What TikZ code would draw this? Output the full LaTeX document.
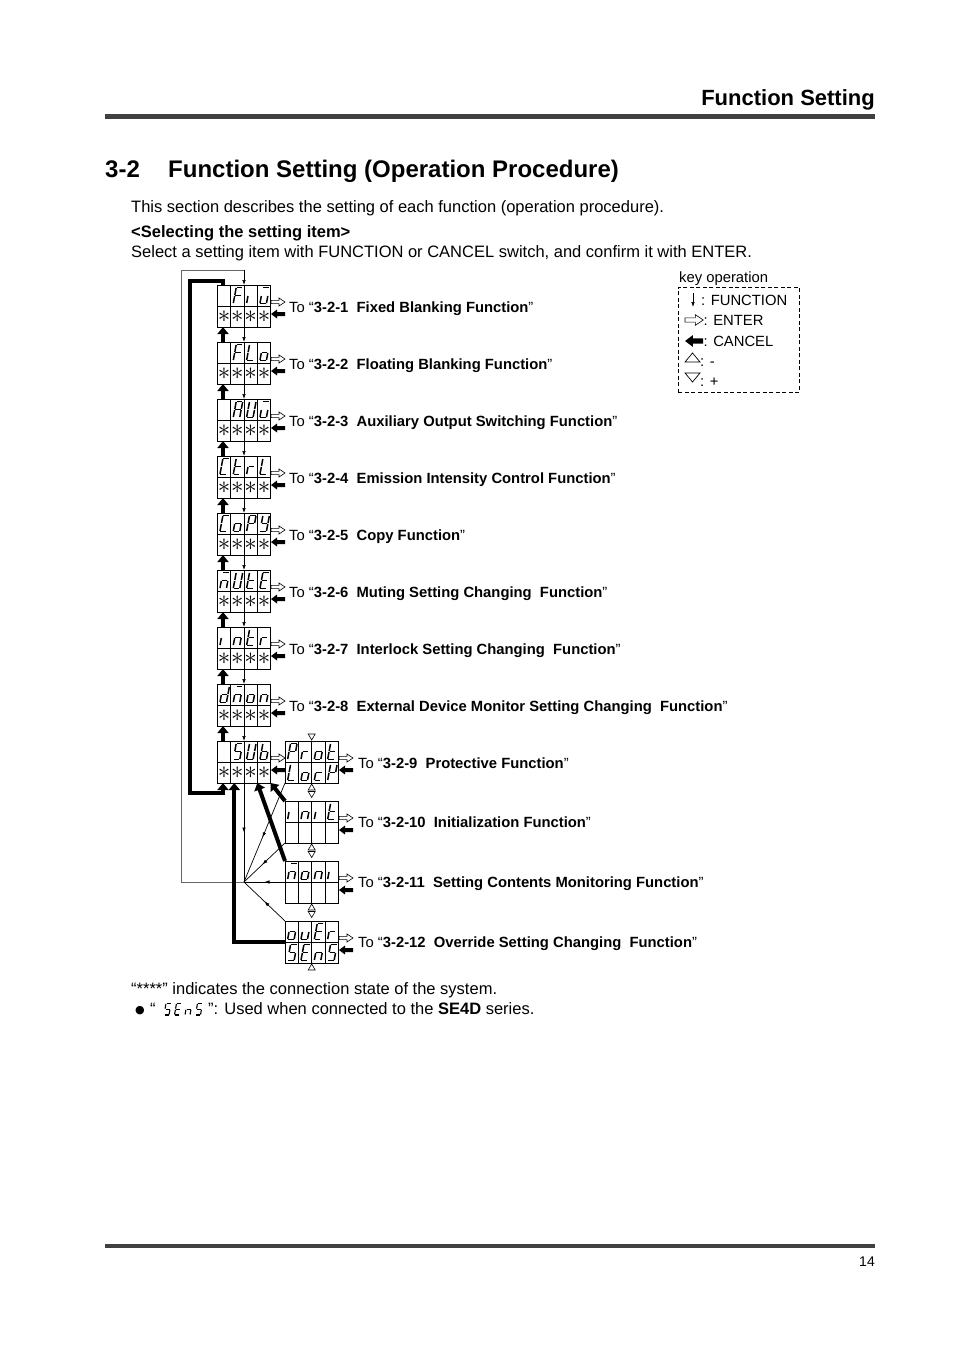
\documentclass[tikz,border=0pt]{standalone}
\usepackage{fontspec}
\setmainfont{Liberation Sans}
\newfontfamily\djv{DejaVu Sans}
\usetikzlibrary{arrows.meta,calc,decorations.markings}

% seven-segment letters: 1=a 2=b 3=c 4=d 5=e 6=f 7=g
\newcommand\sgX{0}
\newcommand\sgF{1,5,6,7}
\newcommand\sgi{5}
\newcommand\sgub{1,3,4,5}
\newcommand\sgL{4,5,6}
\newcommand\sgo{3,4,5,7}
\newcommand\sgA{1,2,3,5,6,7}
\newcommand\sgU{2,3,4,5,6}
\newcommand\sgC{1,4,5,6}
\newcommand\sgt{4,5,6,7}
\newcommand\sgr{5,7}
\newcommand\sgP{1,2,5,6,7}
\newcommand\sgy{2,3,4,6,7}
\newcommand\sgnb{1,3,5,7}
\newcommand\sgE{1,4,5,6,7}
\newcommand\sgn{3,5,7}
\newcommand\sgd{2,3,4,5,7}
\newcommand\sgS{1,3,4,6,7}
\newcommand\sgb{3,4,5,6,7}
\newcommand\sgc{4,5,7}
\newcommand\sgk{2,5,6,7}
\newcommand\sgu{3,4,5}
\newcommand\sglw{1.5pt}

\newcommand\sevseg[4]{%
\begin{scope}[shift={(#1,#2)},x={(6.5pt,0pt)},y={(1.5pt,8pt)},#4]
\foreach \s in #3 {\ifcase\s\relax\or
 \draw[sg] (0,2)--(1,2);\or
 \draw[sg] (1,2)--(1,1);\or
 \draw[sg] (1,1)--(1,0);\or
 \draw[sg] (0,0)--(1,0);\or
 \draw[sg] (0,0)--(0,1);\or
 \draw[sg] (0,1)--(0,2);\or
 \draw[sg] (0,1)--(1,1);\fi}
\end{scope}}

\newcommand\rowg[6]{%
\sevseg{#1+2.6}{#2+18.5}{#3}{}%
\sevseg{#1+15.93}{#2+18.5}{#4}{}%
\sevseg{#1+29.27}{#2+18.5}{#5}{}%
\sevseg{#1+42.6}{#2+18.5}{#6}{}}

\newcommand\dispbox[3]{%
\node[disp] (#1) at (#2,#3) {};
\draw[cellline] (#1.west) -- (#1.east);
\foreach \k in {1,2,3} \draw[cellline] ($(#1.north west)+(13.333*\k,0)$) -- ($(#1.south west)+(13.333*\k,0)$);}

\newcommand\mainbox[6]{%
\dispbox{#1}{217.3}{#2}%
\rowg{217.3}{#2}{#3}{#4}{#5}{#6}%
\foreach \k in {0,1,2,3}{\node[ast] (#1a\k) at (217.3+6.67+13.333*\k,#2+31.5) {$\ast$};}
\pic at (271,#2+17) {enter};
\pic at (271,#2+29) {cancel};}

\tikzset{
 disp/.style={draw, line width=1pt, anchor=north west, minimum width=53.33pt, minimum height=42pt, inner sep=0pt, outer sep=0pt},
 cellline/.style={line width=0.9pt},
 sg/.style={line width=\sglw, shorten <=0.5pt, shorten >=0.5pt},
 fnarr/.style={line width=0.7pt, -{Latex[length=5pt,width=3.6pt]}},
 midfn/.style={line width=0.7pt, postaction={decorate}, decoration={markings, mark=at position #1 with {\arrow{Latex[length=5pt,width=3.6pt]}}}},
 outerln/.style={line width=0.9pt, black!60},
 cnl/.style={line width=4pt, line join=miter, -{Triangle[length=7pt,width=11pt]}},
 ast/.style={inner sep=0pt, font=\fontsize{24}{24}\selectfont},
 lbl/.style={anchor=base west, inner sep=0pt, font=\fontsize{14.8}{17}\selectfont},
 keyt/.style={anchor=base west, inner sep=0pt, font=\fontsize{14.8}{17}\selectfont},
 body/.style={anchor=base west, inner sep=0pt, font=\fontsize{16.5}{19}\selectfont},
 enter/.pic={\draw[line width=0.6pt,fill=white,line join=miter] (0,-1.6) -- (8,-1.6) -- (8,-4) -- (14,0) -- (8,4) -- (8,1.6) -- (0,1.6) -- cycle;},
 cancel/.pic={\fill (0,0) -- (6,-4.5) -- (6,-2) -- (14,-2) -- (14,2) -- (6,2) -- (6,4.5) -- cycle;},
 uptri/.pic={\draw[line width=0.6pt] (-3.5,6) -- (3.5,6) -- (0,0) -- cycle;},
 downtri/.pic={\draw[line width=0.6pt] (-3.5,0) -- (3.5,0) -- (0,6) -- cycle;},
}

\begin{document}
\begin{tikzpicture}[x=1pt,y=-1pt]
\fill[white] (0,0) rectangle (954,1348);
\useasboundingbox (0,0) rectangle (954,1348);

% header
\node[anchor=base east, inner sep=0pt, font=\bfseries\fontsize{22}{26}\selectfont] (hdr) at (875,106) {Function Setting};
\coordinate (hl) at (105,117); \coordinate (hr) at (875,117);
\draw[line width=5pt, black!75] (hl) -- (hr);

% title
\node[anchor=base west, inner sep=0pt, font=\bfseries\fontsize{24}{28}\selectfont] (tnum) at (105,177.5) {3-2};
\node[anchor=base west, inner sep=0pt, font=\bfseries\fontsize{24}{28}\selectfont] (ttl) at (168,177.5) {Function Setting (Operation Procedure)};

% body text
\node[body] (t1) at (131,213) {This section describes the setting of each function (operation procedure).};
\node[body, font=\bfseries\fontsize{16.5}{19}\selectfont] (t2) at (131,237.5) {<Selecting the setting item>};
\node[body] (t3) at (131,257.5) {Select a setting item with FUNCTION or CANCEL switch, and confirm it with ENTER.};

% key
\node[keyt] (kt) at (679,282) {key operation};
\node[draw, dash pattern=on 4pt off 2.5pt, line width=0.8pt, anchor=north west, minimum width=121pt, minimum height=105pt, inner sep=0pt] (keybox) at (678,287) {};
\coordinate (kf1) at (693,293); \coordinate (kf2) at (693,307);
\draw[fnarr] (kf1) -- (kf2);
\node[keyt] (k1) at (701,305) {: FUNCTION};
\pic[scale=1.3] at (685,320) {enter};
\node[keyt] (k2) at (703.5,325) {: ENTER};
\pic[scale=1.3] at (685,341) {cancel};
\node[keyt] (k3) at (703.5,346) {: CANCEL};
\draw[line width=0.7pt] (685,362) -- (700,362) -- (692.5,353) -- cycle;
\node[keyt] (k4) at (700,366) {: -};
\draw[line width=0.7pt] (685,373) -- (700,373) -- (692.5,382) -- cycle;
\node[keyt] (k5) at (700,386) {: +};

% main column
\mainbox{m0}{285}{\sgX}{\sgF}{\sgi}{\sgub}
\mainbox{m1}{342}{\sgX}{\sgF}{\sgL}{\sgo}
\mainbox{m2}{399}{\sgX}{\sgA}{\sgU}{\sgub}
\mainbox{m3}{456}{\sgC}{\sgt}{\sgr}{\sgL}
\mainbox{m4}{513}{\sgC}{\sgo}{\sgP}{\sgy}
\mainbox{m5}{570}{\sgnb}{\sgU}{\sgt}{\sgE}
\mainbox{m6}{627}{\sgi}{\sgn}{\sgt}{\sgr}
\mainbox{m7}{684}{\sgd}{\sgnb}{\sgo}{\sgn}
\mainbox{m8}{741}{\sgX}{\sgS}{\sgU}{\sgb}

% sub column
\dispbox{s0}{285}{741}
\rowg{285}{741}{\sgP}{\sgr}{\sgo}{\sgt}
\rowg{285}{762}{\sgL}{\sgo}{\sgc}{\sgk}
\dispbox{s1}{285}{801}
\rowg{285}{801}{\sgi}{\sgn}{\sgi}{\sgt}
\dispbox{s2}{285}{861}
\rowg{285}{861}{\sgnb}{\sgo}{\sgn}{\sgi}
\dispbox{s3}{285}{921}
\rowg{285}{921}{\sgo}{\sgu}{\sgE}{\sgr}
\rowg{285}{942}{\sgS}{\sgE}{\sgn}{\sgS}
\foreach \T in {741,801,861,921}{\pic at (339,\T+17) {enter}; \pic at (339,\T+29) {cancel};}

\pic at (311.7,734) {downtri};
\foreach \B in {783,843,903}{\pic at (311.7,\B+1) {uptri}; \pic at (311.7,\B+8.5) {downtri};}
\pic at (311.7,964) {uptri};

% helper coordinates
\coordinate (dx) at (244,0);
\coordinate (ux) at (223,0);
\coordinate (cx) at (234.3,0);
\coordinate (ox) at (181,270);
\coordinate (tl) at (190,281);
\coordinate (bl) at (190,793);
\coordinate (fan) at (244,882);

% FUNCTION arrows (thin)
\foreach \a/\b in {m0/m1,m1/m2,m2/m3,m3/m4,m4/m5,m5/m6,m6/m7,m7/m8}
  \draw[fnarr] (\a.south -| dx) -- (\b.north -| dx);
\draw[outerln] (fan) -- (fan -| ox) -- (ox) -- (ox -| dx);
\draw[fnarr] (ox -| dx) -- (m0.north -| dx);
\draw[midfn=0.5] (m8.south -| dx) -- (fan);
\draw[midfn=0.55] (s0.south west) -- (fan);
\draw[midfn=0.55] (s1.south west) -- (fan);
\draw[midfn=0.5] (s2.west) -- (fan);
\draw[midfn=0.5] (s3.north west) -- (fan);

% CANCEL arrows (thick)
\foreach \a/\b in {m1/m0,m2/m1,m3/m2,m4/m3,m5/m4,m6/m5,m7/m6,m8/m7}
  \draw[cnl] (\a.north -| ux) -- (\b.south -| ux);
\draw[cnl] (m0.north -| ux) -- (tl -| ux) -- (tl) -- (bl) -- (bl -| ux) -- (m8.south -| ux);
\draw[cnl] (s1.north west) -- (m8.south east);
\draw[cnl] (s2.north west) -- ($(m8.south west)+(40,0)$);
\draw[cnl] (s3.west) -- (s3.west -| cx) -- (m8.south -| cx);

% labels
\node[lbl] (l1) at (289,312) {To “\textbf{3-2-1\ \ Fixed Blanking Function}”};
\node[lbl] (l2) at (289,369) {To “\textbf{3-2-2\ \ Floating Blanking Function}”};
\node[lbl] (l3) at (289,426) {To “\textbf{3-2-3\ \ Auxiliary Output Switching Function}”};
\node[lbl] (l4) at (289,483) {To “\textbf{3-2-4\ \ Emission Intensity Control Function}”};
\node[lbl] (l5) at (289,540) {To “\textbf{3-2-5\ \ Copy Function}”};
\node[lbl] (l6) at (289,597) {To “\textbf{3-2-6\ \ Muting Setting Changing\ \ Function}”};
\node[lbl] (l7) at (289,654) {To “\textbf{3-2-7\ \ Interlock Setting Changing\ \ Function}”};
\node[lbl] (l8) at (289,711) {To “\textbf{3-2-8\ \ External Device Monitor Setting Changing\ \ Function}”};
\node[lbl] (l9) at (358,768) {To “\textbf{3-2-9\ \ Protective Function}”};
\node[lbl] (l10) at (358,827) {To “\textbf{3-2-10\ \ Initialization Function}”};
\node[lbl] (l11) at (358,887) {To “\textbf{3-2-11\ \ Setting Contents Monitoring Function}”};
\node[lbl] (l12) at (358,947) {To “\textbf{3-2-12\ \ Override Setting Changing\ \ Function}”};

% notes
\node[body] (n1) at (131,994) {“****” indicates the connection state of the system.};
\node[body, font=\djv\fontsize{11}{13}\selectfont] (n2a) at (135,1013.5) {●};
\node[body] (n2b) at (150,1014) {“};
\begin{scope}
\renewcommand\sglw{1.1pt}
\sevseg{164}{1015}{\sgS}{x={(5pt,0pt)},y={(1pt,5.8pt)}}
\sevseg{174.5}{1015}{\sgE}{x={(5pt,0pt)},y={(1pt,5.8pt)}}
\sevseg{185}{1015}{\sgn}{x={(5pt,0pt)},y={(1pt,5.8pt)}}
\sevseg{195.5}{1015}{\sgS}{x={(5pt,0pt)},y={(1pt,5.8pt)}}
\end{scope}
\node[body] (n2c) at (208,1014) {”: Used when connected to the \textbf{SE4D} series.};

% footer
\coordinate (fl) at (105,1246); \coordinate (fr) at (875,1246);
\draw[line width=4pt, black!75] (fl) -- (fr);
\node[anchor=base east, inner sep=0pt, font=\fontsize{14}{16}\selectfont] (pg) at (875,1266) {14};
\end{tikzpicture}
\end{document}
